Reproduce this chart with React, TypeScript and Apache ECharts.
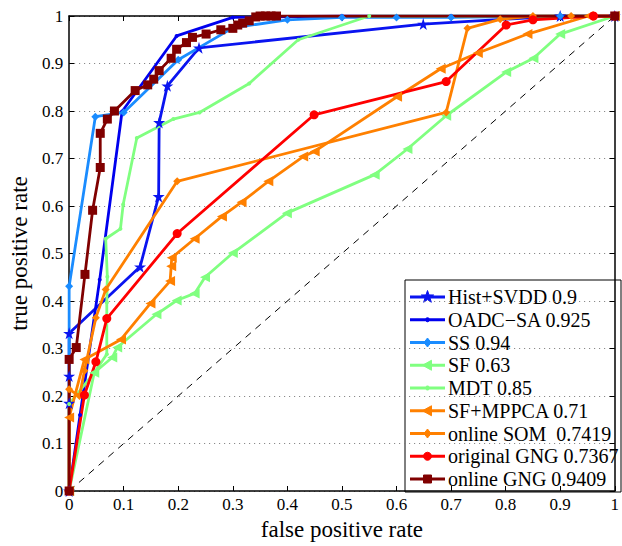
import React, { useEffect, useRef } from "react";
import * as echarts from "echarts";

const seriesNames = [
  "Hist+SVDD 0.9",
  "OADC\u2212SA 0.925",
  "SS 0.94",
  "SF 0.63",
  "MDT 0.85",
  "SF+MPPCA 0.71",
  "online SOM\u00a0 0.7419",
  "original GNG 0.7367",
  "online GNG 0.9409",
];
const seriesColors = ["#0a14f0", "#0000ee", "#1a8cff", "#80ff80", "#80ff80", "#ff8000", "#ff8000", "#ff0000", "#800000"];
const seriesMarkers = ["star", "dot", "diamond", "triangle", "dot", "triangle", "diamond", "circle", "rect"];

const histSvdd = [[0,0],[0,0.185],[0,0.242],[0,0.332],[0.13,0.472],[0.164,0.62],[0.165,0.776],[0.18,0.853],[0.238,0.933],[0.649,0.983],[0.9,1],[1,1]];
const oadcSa = [[0,0],[0.02,0.16],[0.056,0.445],[0.097,0.799],[0.197,0.958],[0.3,0.997],[0.5,1],[0.7,1],[1,1]];
const ss = [[0,0],[0,0.431],[0.048,0.788],[0.1,0.797],[0.2,0.908],[0.3,0.975],[0.4,0.992],[0.5,0.997],[0.6,0.997],[0.7,0.997],[0.9,1],[1,1]];
const sf = [[0,0],[0.046,0.249],[0.079,0.281],[0.088,0.302],[0.16,0.372],[0.197,0.401],[0.23,0.416],[0.249,0.45],[0.3,0.501],[0.399,0.585],[0.56,0.666],[0.62,0.72],[0.691,0.79],[0.801,0.882],[0.851,0.911],[0.9,0.962],[1,1]];
const mdt = [[0,0],[0,0.183],[0.046,0.249],[0.069,0.288],[0.069,0.397],[0.07,0.451],[0.067,0.531],[0.094,0.552],[0.099,0.603],[0.124,0.743],[0.191,0.783],[0.239,0.797],[0.33,0.858],[0.42,0.95],[0.55,1],[1,1]];
const sfMppca = [[0,0],[0,0.155],[0.028,0.277],[0.095,0.319],[0.149,0.395],[0.185,0.442],[0.187,0.473],[0.188,0.491],[0.23,0.531],[0.28,0.578],[0.316,0.608],[0.365,0.652],[0.429,0.704],[0.45,0.715],[0.601,0.83],[0.681,0.889],[0.749,0.922],[0.84,0.962],[0.952,1],[1,1]];
const onlineSom = [[0,0],[0,0.214],[0.019,0.2],[0.028,0.253],[0.049,0.365],[0.067,0.424],[0.198,0.652],[0.691,0.797],[0.73,0.974],[0.79,0.993],[0.85,1],[0.92,1],[1,1]];
const originalGng = [[0,0],[0.028,0.202],[0.049,0.272],[0.069,0.363],[0.198,0.542],[0.449,0.792],[0.691,0.862],[0.801,0.981],[0.85,0.992],[0.961,1],[1,1]];
const onlineGng = [[0,0],[0,0.277],[0.013,0.302],[0.029,0.456],[0.043,0.591],[0.057,0.681],[0.057,0.753],[0.07,0.783],[0.083,0.8],[0.121,0.843],[0.144,0.855],[0.155,0.867],[0.165,0.885],[0.187,0.911],[0.197,0.93],[0.215,0.944],[0.226,0.955],[0.251,0.962],[0.278,0.971],[0.3,0.974],[0.309,0.981],[0.318,0.985],[0.33,0.99],[0.342,0.998],[0.35,1],[0.36,1],[0.37,1],[0.38,1],[1,1]];
const diagonal = [[0,0],[1,1]];
const seriesData = [histSvdd, oadcSa, ss, sf, mdt, sfMppca, onlineSom, originalGng, onlineGng];

const STAR = "path://M50,0 L61,35 L98,35 L68,57 L79,91 L50,70 L21,91 L32,57 L2,35 L39,35 Z";
const FONT = "Liberation Serif";

const starPoints = (cx: number, cy: number, r: number) => {
  const pts: number[][] = [];
  for (let k = 0; k < 10; k++) {
    const a = -Math.PI / 2 + (k * Math.PI) / 5;
    const rr = k % 2 === 0 ? r : r * 0.4;
    pts.push([cx + rr * Math.cos(a), cy + rr * Math.sin(a)]);
  }
  return pts;
};

const legendMarker = (kind: string, cx: number, cy: number, color: string): any => {
  const style = { fill: color, stroke: color, lineWidth: 1 };
  switch (kind) {
    case "star":
      return { type: "polygon", shape: { points: starPoints(cx, cy, 6.5) }, style };
    case "dot":
      return { type: "circle", shape: { cx, cy, r: 2 }, style };
    case "diamond":
      return { type: "polygon", shape: { points: [[cx, cy - 4.5], [cx + 3.5, cy], [cx, cy + 4.5], [cx - 3.5, cy]] }, style };
    case "triangle":
      return { type: "polygon", shape: { points: [[cx - 5, cy], [cx + 4, cy - 5], [cx + 4, cy + 5]] }, style };
    case "circle":
      return { type: "circle", shape: { cx, cy, r: 4 }, style };
    default:
      return { type: "rect", shape: { x: cx - 4, y: cy - 4, width: 8, height: 8 }, style };
  }
};

export default function App() {
  const ref = useRef<HTMLDivElement>(null);
  useEffect(() => {
    if (!ref.current) return;
    const chart = echarts.init(ref.current, null, { renderer: "svg" });
    const symbolFor = (kind: string) =>
      kind === "star" ? STAR : kind === "dot" ? "circle" : kind === "rect" ? "rect" : kind;
    const sizeFor = (kind: string) =>
      kind === "star" ? 12 : kind === "dot" ? 4 : kind === "triangle" ? 10 : kind === "diamond" ? 8 : 9;
    const lineSeries = seriesNames.map((name, i) => ({
      name,
      type: "line",
      data: seriesData[i],
      lineStyle: { color: seriesColors[i], width: 2.8 },
      itemStyle: { color: seriesColors[i] },
      symbol: symbolFor(seriesMarkers[i]),
      symbolSize: sizeFor(seriesMarkers[i]),
      symbolRotate: seriesMarkers[i] === "triangle" ? 90 : 0,
      showAllSymbol: true,
      z: 3,
    }));
    const axisCommon = {
      type: "value",
      min: 0,
      max: 1,
      interval: 0.1,
      axisLine: { show: true, onZero: false, lineStyle: { color: "#000", width: 1.5 } },
      axisTick: { show: true, inside: true, length: 5, lineStyle: { color: "#000", width: 1 } },
    };
    const fmt = (v: number) => String(Math.round(v * 10) / 10);

    const LX = 405, LY = 280, LW = 216, LH = 212, STEP = 22.75, Y0 = 297;
    const legendChildren: any[] = [
      { type: "rect", shape: { x: LX, y: LY, width: LW, height: LH }, style: { fill: "#fff", stroke: "#000", lineWidth: 1 } },
    ];
    seriesNames.forEach((name, i) => {
      const cy = Y0 + i * STEP;
      legendChildren.push({
        type: "line",
        shape: { x1: LX + 5, y1: cy, x2: LX + 40, y2: cy },
        style: { stroke: seriesColors[i], lineWidth: 2.8 },
      });
      legendChildren.push(legendMarker(seriesMarkers[i], LX + 22.5, cy, seriesColors[i]));
      legendChildren.push({
        type: "text",
        x: LX + 43,
        y: cy,
        style: { text: name, fill: "#000", font: `20px ${FONT}`, fontFamily: FONT, fontSize: 20, verticalAlign: "middle", align: "left" },
      });
    });

    chart.setOption({
      animation: false,
      backgroundColor: "#fff",
      textStyle: { fontFamily: FONT },
      grid: { left: 68, right: 2, top: 16, bottom: 54 },
      xAxis: [
        {
          ...axisCommon,
          position: "bottom",
          name: "false positive rate",
          nameLocation: "middle",
          nameGap: 27,
          nameTextStyle: { fontFamily: FONT, fontSize: 23, color: "#000" },
          axisLabel: { formatter: fmt, fontFamily: FONT, fontSize: 17, color: "#000", margin: 5 },
          splitLine: { show: false },
        },
        {
          ...axisCommon,
          position: "top",
          axisLabel: { show: false },
          splitLine: { show: false },
        },
      ],
      yAxis: [
        {
          ...axisCommon,
          position: "left",
          name: "true positive rate",
          nameLocation: "middle",
          nameGap: 34,
          nameTextStyle: { fontFamily: FONT, fontSize: 23, color: "#000" },
          axisLabel: { formatter: fmt, fontFamily: FONT, fontSize: 17, color: "#000", margin: 6 },
          splitLine: { show: true, lineStyle: { color: "#777", type: [1, 4], width: 1 } },
        },
        {
          ...axisCommon,
          position: "right",
          axisLabel: { show: false },
          splitLine: { show: false },
        },
      ],
      graphic: [{ type: "group", z: 100, children: legendChildren }],
      series: [
        {
          name: "diag",
          type: "line",
          data: diagonal,
          symbol: "none",
          lineStyle: { color: "#000", width: 1, type: [7, 6] },
          z: 2,
        },
        ...lineSeries,
      ],
    });
    return () => chart.dispose();
  }, []);
  return <div ref={ref} style={{ width: 622, height: 546, position: "absolute", left: 0, top: 0 }} />;
}
